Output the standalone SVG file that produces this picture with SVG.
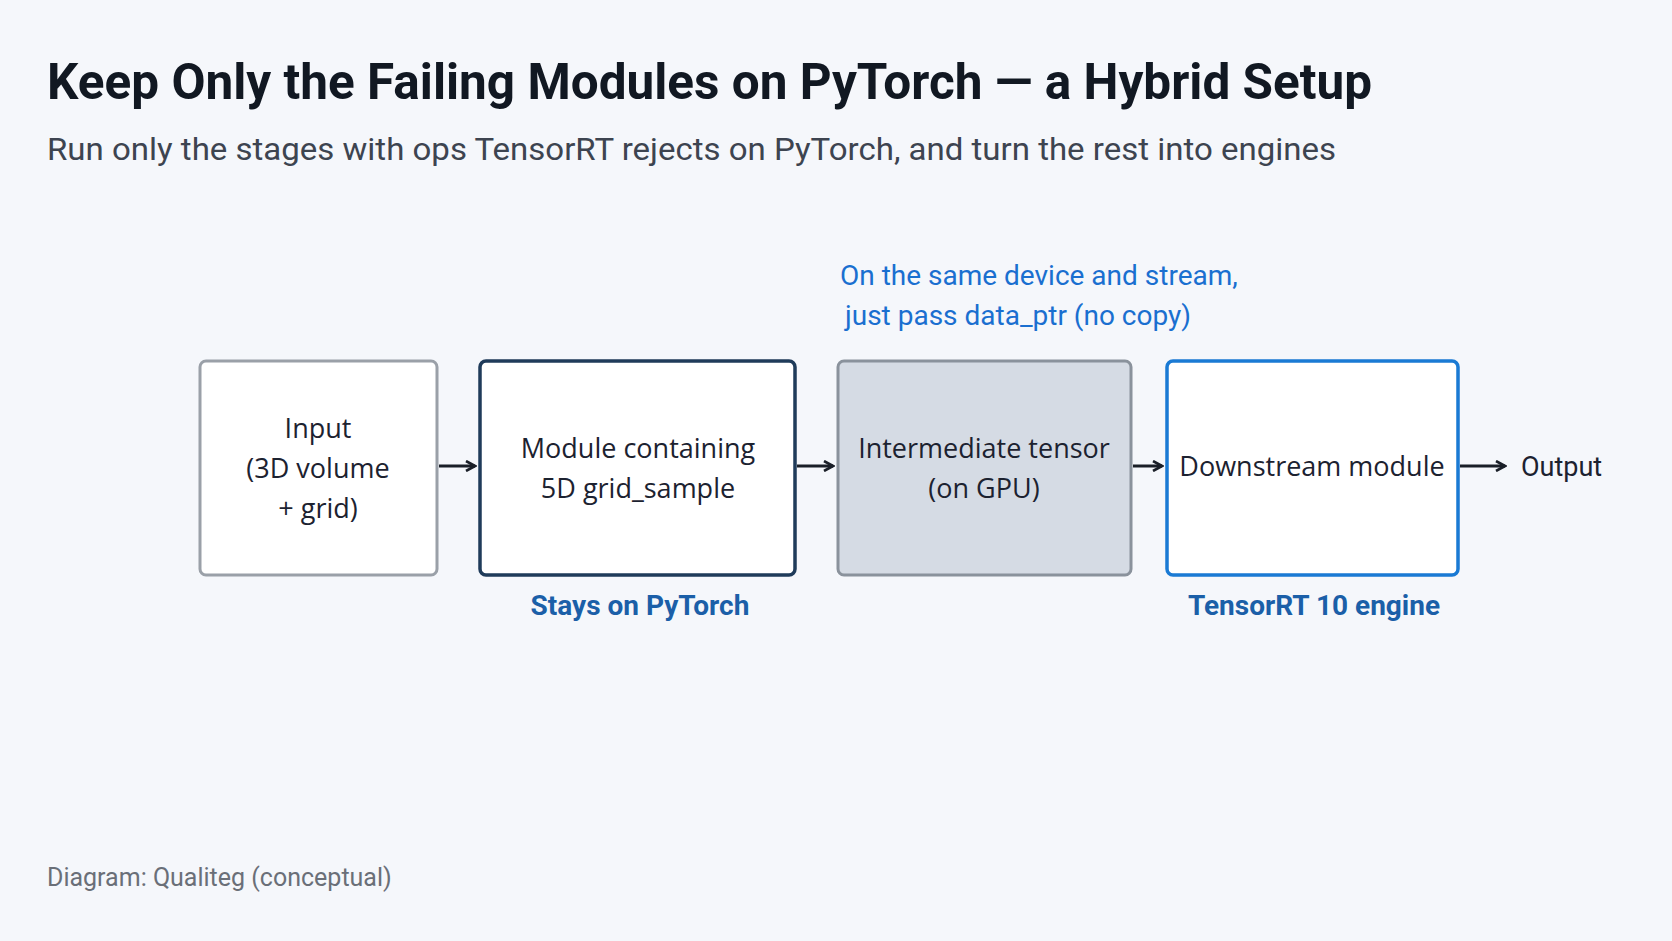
<svg xmlns="http://www.w3.org/2000/svg" width="1672" height="941" viewBox="0 0 1672 941">
<defs>
<style>
.t{font-family:Roboto,"Liberation Sans",sans-serif}
.bx{font-family:"Open Sans",Roboto,sans-serif;font-size:27px;fill:#1c2230;text-anchor:middle}
.lbl{font-family:Roboto,sans-serif;font-size:28px;font-weight:bold;fill:#1b5fa8;text-anchor:middle}
.c{stroke:#1a1f28;stroke-width:3;fill:none;marker-end:url(#ah)}
</style>
<marker id="ah" viewBox="0 0 12 12" refX="10" refY="6" markerWidth="12" markerHeight="12" markerUnits="userSpaceOnUse" orient="auto">
<path d="M1,1 L10,6 L1,11" fill="none" stroke="#1a1f28" stroke-width="2.6"/>
</marker>
</defs>
<rect width="1672" height="941" fill="#f5f7fb"/>
<text class="t" x="47" y="99" font-size="50" font-weight="bold" fill="#111822" textLength="1325" lengthAdjust="spacingAndGlyphs">Keep Only the Failing Modules on PyTorch — a Hybrid Setup</text>
<text class="t" x="47" y="160" font-size="32" fill="#3d4450" textLength="1289" lengthAdjust="spacingAndGlyphs">Run only the stages with ops TensorRT rejects on PyTorch, and turn the rest into engines</text>
<g id="note"><text class="t" font-size="28" fill="#1a6fd0"><tspan x="840" y="285">On the same device and stream,</tspan><tspan x="845" y="325">just pass data_ptr (no copy)</tspan></text></g>
<g id="input"><rect x="200" y="361" width="237" height="214" rx="6" fill="#fff" stroke="#9aa0a8" stroke-width="3"/>
<text class="bx"><tspan x="318" y="438">Input</tspan><tspan x="318" y="478">(3D volume</tspan><tspan x="318" y="518">+ grid)</tspan></text></g>
<g id="module"><rect x="480" y="361" width="315" height="214" rx="6" fill="#fff" stroke="#1f3b5a" stroke-width="3.5"/>
<text class="bx"><tspan x="638" y="458">Module containing</tspan><tspan x="638" y="498">5D grid_sample</tspan></text>
<text class="lbl" x="640" y="615">Stays on PyTorch</text></g>
<g id="inter"><rect x="838" y="361" width="293" height="214" rx="6" fill="#d5dbe4" stroke="#8a929c" stroke-width="3"/>
<text class="bx"><tspan x="984" y="458">Intermediate tensor</tspan><tspan x="984" y="498">(on GPU)</tspan></text></g>
<g id="down"><rect x="1167" y="361" width="291" height="214" rx="6" fill="#fff" stroke="#1a7ad4" stroke-width="3.5"/>
<text class="bx" x="1312" y="476">Downstream module</text>
<text class="lbl" x="1314" y="615">TensorRT 10 engine</text></g>
<g id="output"><text class="t" x="1521" y="476" font-size="27" fill="#1c2230">Output</text></g>
<g id="connectors">
<path class="c" d="M439,466 H475"/>
<path class="c" d="M797,466 H833"/>
<path class="c" d="M1133,466 H1162"/>
<path class="c" d="M1460,466 H1505"/>
</g>
<text class="t" x="47" y="886" font-size="25" fill="#6a6f78">Diagram: Qualiteg (conceptual)</text>
</svg>
